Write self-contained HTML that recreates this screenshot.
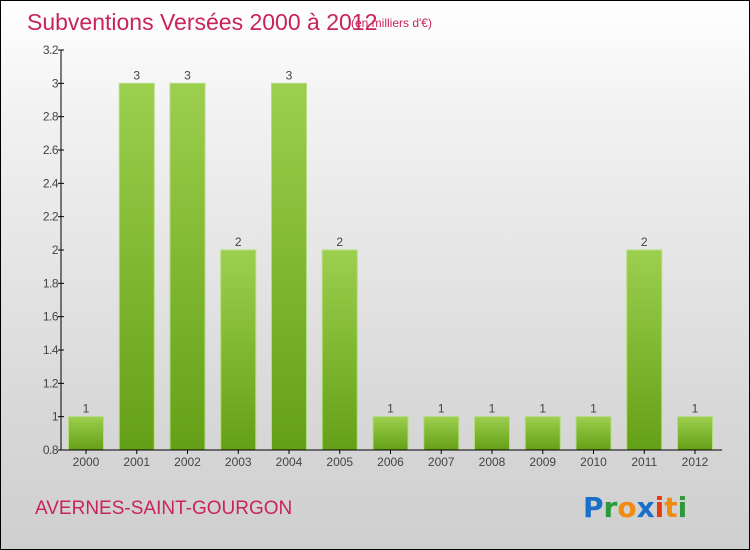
<!DOCTYPE html>
<html><head><meta charset="utf-8"><style>
html,body{margin:0;padding:0}
body{width:750px;height:550px;overflow:hidden;font-family:"Liberation Sans",sans-serif}
#wrap{position:absolute;left:0;top:0;width:748px;height:548px;border:1px solid #000;background:linear-gradient(#fff 0%,#f2f2f2 20%,#d8d8d8 75%,#cfcfcf 100%)}
</style></head><body>
<div id="wrap">
<svg width="750" height="550" style="position:absolute;left:-1px;top:-1px" id="svg">
<defs>
<linearGradient id="bg" x1="0" y1="0" x2="0" y2="1"><stop offset="0" stop-color="#9ccf4e"/><stop offset="1" stop-color="#64a017"/></linearGradient>
</defs>
<text x="27" y="30" font-size="23" fill="#c8245a" style="font-weight:300">Subventions Versées 2000 à 2012</text>
<text x="351" y="27" font-size="12" fill="#c8245a">(en milliers d'€)</text>
<text x="35" y="514" font-size="19" fill="#c8245a">AVERNES-SAINT-GOURGON</text>
<g font-size="28" font-weight="bold" font-family="'DejaVu Sans',sans-serif">
<text x="583" y="517"><tspan fill="#1a6fc8">P</tspan><tspan fill="#2a9a3a">r</tspan><tspan fill="#f08a10">o</tspan><tspan fill="#1a6fc8">x</tspan><tspan fill="#e83a10">i</tspan><tspan fill="#f08a10">t</tspan><tspan fill="#2a9a3a">i</tspan></text>
</g>
<g id="plot"></g>
</svg>
</div>
<script>
const categories=["2000","2001","2002","2003","2004","2005","2006","2007","2008","2009","2010","2011","2012"];
const values=[1,3,3,2,3,2,1,1,1,1,1,2,1];
const yTicks=[0.8,1,1.2,1.4,1.6,1.8,2,2.2,2.4,2.6,2.8,3,3.2];
const yTickLabels=["0.8","1","1.2","1.4","1.6","1.8","2","2.2","2.4","2.6","2.8","3","3.2"];
const NS="http://www.w3.org/2000/svg";
const g=document.getElementById('plot');
const x0=61,yMin=0.8,yMax=3.2,yTop=50,yBot=450,step=50.75,firstC=86,bw=35;
function y(v){return yBot-(v-yMin)/(yMax-yMin)*(yBot-yTop);}
function xc(i){return firstC+i*step;}
function mk(t,a){const e=document.createElementNS(NS,t);for(const k in a)e.setAttribute(k,a[k]);g.appendChild(e);return e;}
categories.forEach((c,i)=>{
  const r=mk('rect',{x:xc(i)-bw/2,y:y(values[i]),width:bw,height:yBot-y(values[i]),fill:'url(#bg)',stroke:'#b5dc80','stroke-width':1});
  
  
  const t=mk('text',{x:xc(i),y:y(values[i])-4,'font-size':12,fill:'#444','text-anchor':'middle'});
  t.textContent=values[i];
  
  
  const xl=mk('text',{x:xc(i),y:466,'font-size':12,fill:'#444','text-anchor':'middle'});
  xl.textContent=c;
  
  
  const tk=mk('line',{x1:xc(i),x2:xc(i),y1:450,y2:454,stroke:'#000'});
  
  
});
yTicks.forEach((v,i)=>{
  const l=mk('line',{x1:x0-3,x2:x0+3,y1:y(v),y2:y(v),stroke:'#000'});
  
  
  const t=mk('text',{x:x0-3,y:y(v)+4,'font-size':12,fill:'#444','text-anchor':'end','letter-spacing':'-0.5'});
  t.textContent=yTickLabels[i];
  
  
});
const ya=mk('line',{x1:x0,x2:x0,y1:yTop,y2:yBot,stroke:'#000'});


const xa=mk('line',{x1:x0,x2:722,y1:yBot,y2:yBot,stroke:'#000'});


</script>
</body></html>
